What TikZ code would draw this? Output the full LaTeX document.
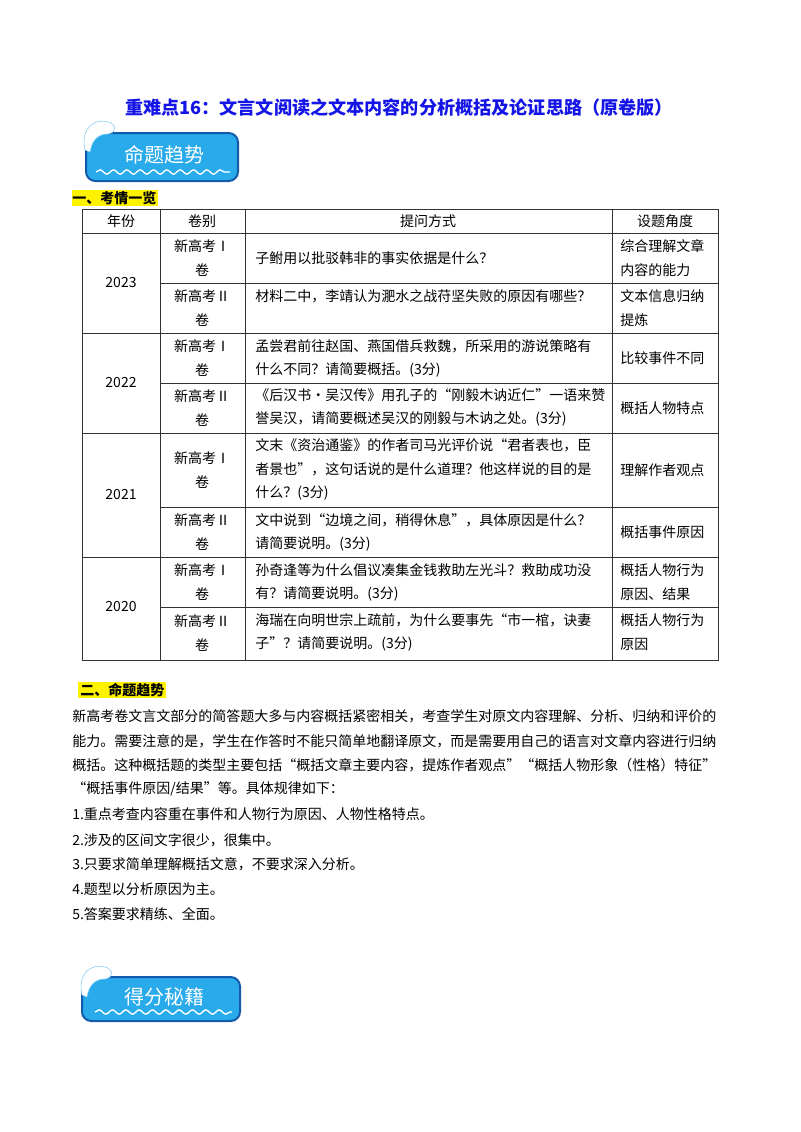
\documentclass[tikz,border=0pt]{standalone}
\usepackage{fontspec}
\setmainfont{Noto Sans CJK SC}
\usetikzlibrary{decorations.pathmorphing}
\definecolor{ttl}{RGB}{20,20,230}
\definecolor{bnr}{RGB}{40,170,235}
\definecolor{bnrd}{RGB}{20,90,170}
\tikzset{
 t/.style={anchor=west,inner sep=0pt,font=\fontsize{10.5}{18}\selectfont},
 c/.style={anchor=center,inner sep=0pt,align=center,font=\fontsize{10.5}{18}\selectfont},
 banner/.style={rounded corners=7pt,fill=bnr,draw=bnrd,line width=1.5pt},
 grid/.style={draw=black!80,line width=0.6pt},
 wave/.style={white,line width=1pt,decorate,decoration={snake,amplitude=1.6pt,segment length=10pt}}
}
\begin{document}
\begin{tikzpicture}[x=0.75pt,y=-0.75pt]
\useasboundingbox[fill=white] (0,0) rectangle (800,1132);
\node[c,font=\fontsize{13.6}{16}\selectfont\bfseries,text=ttl] (title) at (399,108) {重难点16：文言文阅读之文本内容的分析概括及论证思路（原卷版）};
% banner 1
\draw[banner] (86,133) rectangle (238,181);
\node[c,text=white,font=\fontsize{15}{16}\selectfont] (b1) at (164,155) {命题趋势};
\draw[wave] (96,172) -- (230,172);
\draw[fill=white,draw=bnr!60] (85,150) .. controls (80,128) and (95,118) .. (108,122) .. controls (116,124) and (118,132) .. (108,134) .. controls (98,134) and (92,140) .. (90,152) -- cycle;
% banner 2
\draw[banner] (82,977) rectangle (240,1021);
\node[c,text=white,font=\fontsize{15}{16}\selectfont] (b2) at (164,997) {得分秘籍};
\draw[wave] (95,1012) -- (232,1012);
\draw[fill=white,draw=bnr!60] (82,995) .. controls (77,973) and (92,963) .. (105,967) .. controls (113,969) and (115,977) .. (105,979) .. controls (95,979) and (89,985) .. (87,997) -- cycle;
% heading 1
\fill[yellow] (72,190) rectangle (158,206);
\node[t,font=\fontsize{10.5}{18}\selectfont\bfseries] (h1) at (72,198) {一、考情一览};
% table grid
\draw[grid] (82,209) rectangle (718,660);
\foreach \x in {160,245,612} \draw[grid] (\x,209) -- (\x,660);
\draw[grid] (82,233) -- (718,233);
\foreach \y in {333,433,557} \draw[grid] (82,\y) -- (718,\y);
\foreach \y in {283,383,507,607} \draw[grid] (160,\y) -- (718,\y);
% header
\node[c] (hA) at (121,221) {年份};
\node[c] (hB) at (202,221) {卷别};
\node[c] (hC) at (428,221) {提问方式};
\node[c] (hD) at (665,221) {设题角度};
% years
\node[c] (y1) at (121,283) {2023};
\node[c] (y2) at (121,383) {2022};
\node[c] (y3) at (121,495) {2021};
\node[c] (y4) at (121,607) {2020};
% volumes
\foreach \y/\v [count=\i] in {258/Ⅰ,308/Ⅱ,358/Ⅰ,408/Ⅱ,470/Ⅰ,532/Ⅱ,582/Ⅰ,633/Ⅱ}
  \node[c] (v\i) at (202,\y) {新高考\v\\卷};
% questions
\node[t] (q1) at (255,258) {子鲋用以批驳韩非的事实依据是什么？};
\node[t] (q2) at (255,296) {材料二中，李靖认为淝水之战苻坚失败的原因有哪些？};
\node[t] (q3a) at (255,346) {孟尝君前往赵国、燕国借兵救魏，所采用的游说策略有};
\node[t] (q3b) at (255,370) {什么不同？请简要概括。(3分)};
\node[t] (q4a) at (255,395) {《后汉书·吴汉传》用孔子的“刚毅木讷近仁”一语来赞};
\node[t] (q4b) at (255,419) {誉吴汉，请简要概述吴汉的刚毅与木讷之处。(3分)};
\node[t] (q5a) at (255,445) {文末《资治通鉴》的作者司马光评价说“君者表也，臣};
\node[t] (q5b) at (255,469) {者景也”，这句话说的是什么道理？他这样说的目的是};
\node[t] (q5c) at (255,493) {什么？(3分)};
\node[t] (q6a) at (255,520) {文中说到“边境之间，稍得休息”，具体原因是什么？};
\node[t] (q6b) at (255,544) {请简要说明。(3分)};
\node[t] (q7a) at (255,570) {孙奇逢等为什么倡议凑集金钱救助左光斗？救助成功没};
\node[t] (q7b) at (255,594) {有？请简要说明。(3分)};
\node[t] (q8a) at (255,620) {海瑞在向明世宗上疏前，为什么要事先“市一棺，诀妻};
\node[t] (q8b) at (255,644) {子”？请简要说明。(3分)};
% angles
\node[t] (a1a) at (620,246) {综合理解文章};
\node[t] (a1b) at (620,270) {内容的能力};
\node[t] (a2a) at (620,296) {文本信息归纳};
\node[t] (a2b) at (620,320) {提炼};
\node[t] (a3) at (620,358) {比较事件不同};
\node[t] (a4) at (620,408) {概括人物特点};
\node[t] (a5) at (620,470) {理解作者观点};
\node[t] (a6) at (620,532) {概括事件原因};
\node[t] (a7a) at (620,570) {概括人物行为};
\node[t] (a7b) at (620,594) {原因、结果};
\node[t] (a8a) at (620,620) {概括人物行为};
\node[t] (a8b) at (620,644) {原因};
% heading 2
\fill[yellow] (78,682) rectangle (166,698);
\node[t,font=\fontsize{10.5}{18}\selectfont\bfseries] (h2) at (80,690) {二、命题趋势};
\node[t] (p1) at (72,716) {新高考卷文言文部分的简答题大多与内容概括紧密相关，考查学生对原文内容理解、分析、归纳和评价的};
\node[t] (p2) at (72,741) {能力。需要注意的是，学生在作答时不能只简单地翻译原文，而是需要用自己的语言对文章内容进行归纳};
\node[t] (p3) at (72,765) {概括。这种概括题的类型主要包括“概括文章主要内容，提炼作者观点”“概括人物形象（性格）特征”};
\node[t] (p4) at (72,789) {“概括事件原因/结果”等。具体规律如下：};
\node[t] (p5) at (72,814) {1.重点考查内容重在事件和人物行为原因、人物性格特点。};
\node[t] (p6) at (72,840) {2.涉及的区间文字很少，很集中。};
\node[t] (p7) at (72,864) {3.只要求简单理解概括文意，不要求深入分析。};
\node[t] (p8) at (72,889) {4.题型以分析原因为主。};
\node[t] (p9) at (72,914) {5.答案要求精练、全面。};
\end{tikzpicture}
\end{document}
